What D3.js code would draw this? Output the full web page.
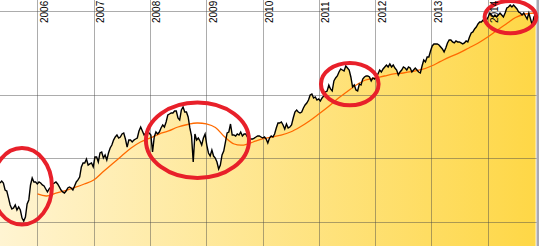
<!DOCTYPE html>
<html><head><meta charset="utf-8">
<script src="https://cdn.jsdelivr.net/npm/d3@7"></script>
<style>html,body{margin:0;padding:0;background:#fff;overflow:hidden}</style>
</head><body>
<svg id="c" width="539" height="246"></svg>
<script>
// ---- data ----
const seriesStart = "2005-05-03";   // first sample
const stepDays = 11;                // sampling interval of the price series
const prices = [
 7.65,7.82,7.65,7.09,7.01,6.50,6.02,5.76,5.83,6.02,
 5.70,5.89,5.70,5.22,5.05,5.28,6.09,6.36,7.49,8.08,
 7.74,7.74,7.57,7.74,7.65,7.49,7.41,7.17,6.94,7.17,
 7.33,7.57,7.65,7.74,7.57,7.33,7.09,6.94,6.86,7.01,
 7.25,7.33,7.25,7.09,7.41,7.74,7.91,8.17,9.12,9.52,
 9.52,9.94,9.31,9.42,9.52,9.12,10.16,10.16,9.62,10.62,
 10.73,10.05,10.39,9.83,10.62,11.21,11.58,12.23,12.64,12.92,
 12.50,12.64,13.06,13.21,12.37,11.33,12.23,12.23,11.97,12.23,
 12.37,12.50,13.50,14.10,13.50,12.92,13.21,13.35,13.21,12.92,
 10.73,12.64,13.35,13.06,13.35,13.95,14.41,14.10,14.89,16.07,
 16.25,16.43,16.43,16.79,16.79,15.56,15.22,16.97,17.54,16.61,
 16.61,15.73,13.95,12.78,9.62,13.06,12.23,12.50,12.10,11.58,
 12.50,13.06,11.58,10.62,10.27,10.97,10.27,10.05,9.62,8.92,
 9.31,10.39,10.85,11.97,13.21,13.35,14.57,12.92,12.92,12.78,
 13.06,12.92,13.35,12.78,13.06,13.06,12.64,12.37,12.37,12.37,
 12.50,12.64,12.78,12.78,12.64,12.50,12.64,12.37,11.84,12.50,
 12.78,12.64,13.06,13.95,14.73,14.73,14.89,14.41,13.79,14.57,
 13.95,14.10,14.41,15.56,16.61,16.97,16.61,16.43,16.61,17.35,
 17.93,18.32,18.93,19.99,20.21,19.35,19.56,18.93,19.14,18.73,
 19.35,19.78,20.66,20.89,22.30,21.35,20.89,23.30,24.07,24.60,
 25.70,26.56,26.27,25.99,27.44,26.85,26.27,24.34,21.82,22.30,
 21.12,20.89,22.55,22.30,23.81,24.34,24.60,24.60,24.34,23.30,
 24.07,23.81,24.34,25.15,26.27,25.70,26.56,27.15,27.74,27.15,
 28.05,27.15,27.74,26.85,26.27,24.87,25.70,26.27,27.15,26.85,
 26.27,27.15,26.85,25.70,26.27,26.85,26.27,25.70,25.42,27.44,
 29.30,28.67,30.28,30.28,32.33,34.14,34.89,34.89,34.89,34.51,
 33.77,33.04,31.98,33.40,35.28,36.45,36.45,35.66,35.28,36.05,
 35.66,35.66,35.28,34.89,35.28,36.05,35.66,37.67,39.35,39.78,
 41.09,42.00,43.38,44.34,44.34,45.32,44.34,45.32,46.83,48.92,
 47.86,46.83,47.86,46.83,47.86,48.92,47.86,46.83,48.92,51.66,
 52.23,53.38,52.23,53.38,52.23,51.10,49.46,48.92,47.86,48.92,
 47.34,45.82,48.92,45.82,42.91,46.83,48.39
];
const maDates = [
 "2006-01-01","2006-03-01","2006-05-01","2006-07-01","2006-09-01","2006-11-01",
 "2007-01-01","2007-03-01","2007-05-01","2007-07-01","2007-09-01","2007-11-01",
 "2008-01-01","2008-03-01","2008-05-01","2008-07-01","2008-09-01","2008-11-01",
 "2009-01-01","2009-03-01","2009-05-01","2009-07-01","2009-09-01","2009-11-01",
 "2010-01-01","2010-03-01","2010-05-01","2010-07-01","2010-09-01","2010-11-01",
 "2011-01-01","2011-03-01","2011-05-01","2011-07-01","2011-09-01","2011-11-01",
 "2012-01-01","2012-03-01","2012-05-01","2012-07-01","2012-09-01","2012-11-01",
 "2013-01-01","2013-03-01","2013-05-01","2013-07-01","2013-09-01","2013-11-01",
 "2014-01-01","2014-03-01","2014-05-01","2014-07-01","2014-09-01","2014-11-01"
];
const maValues = [
 6.79,6.64,6.86,7.05,7.29,7.57,
 7.91,8.63,9.42,10.27,11.21,11.97,
 12.50,13.06,13.50,14.10,14.49,14.73,
 14.57,14.02,12.64,11.71,11.58,11.97,
 12.37,12.64,12.92,13.35,14.10,15.06,
 16.25,17.54,19.14,20.66,22.30,23.55,
 24.07,24.60,25.15,25.42,25.85,26.41,
 27.44,28.83,30.28,31.63,33.40,35.28,
 37.67,40.42,43.38,46.57,48.39,48.92
];
const yearTicks = ["2006","2007","2008","2009","2010","2011","2012","2013","2014"];
const priceGrid = [5, 10, 20, 50];
const hlFrom = ["2005-03-12","2007-12-06","2011-01-15","2013-12-12"];
const hlTo   = ["2006-04-05","2009-10-05","2012-01-24","2014-11-12"];
const hlLow  = [4.86, 8.08, 17.87, 39.2];
const hlHigh = [11.21, 18.42, 28.36, 55.8];
const domainStart = "2005-05-03", domainEnd = "2014-11-17";

// ---- drawing ----
const W = 539, H = 246, PW = 537;
const parse = d3.timeParse("%Y-%m-%d");
const series = prices.map((v, i) => ({date: d3.timeDay.offset(parse(seriesStart), i * stepDays), value: v}));
const ma = maDates.map((d, i) => ({date: parse(d), value: maValues[i]}));

const x = d3.scaleTime().domain([parse(domainStart), parse(domainEnd)]).range([0, PW]);
const y = d3.scaleLog().domain([5, 50]).range([222, 11]);

const svg = d3.select("#c");
const defs = svg.append("defs");
const grad = defs.append("linearGradient").attr("id", "gold")
  .attr("gradientUnits", "userSpaceOnUse").attr("x1", 0).attr("x2", PW).attr("y1", 0).attr("y2", 0);
grad.append("stop").attr("offset", 0).attr("stop-color", "#fff4d2");
grad.append("stop").attr("offset", 1).attr("stop-color", "#fed746");

svg.append("path").datum(series)
  .attr("fill", "url(#gold)")
  .attr("d", d3.area().x(d => x(d.date)).y0(H).y1(d => y(d.value)));

// grid
const gridCol = "rgba(70,70,70,0.45)";
const xTicks = yearTicks.map(t => parse(t + "-01-01"));
const vx = d3.axisTop(x).tickValues(xTicks).tickSize(-H).tickFormat("");
const gx = svg.append("g").call(vx);
gx.select(".domain").remove();
gx.selectAll("line").attr("stroke", gridCol).attr("shape-rendering", "crispEdges");

const hy = d3.axisLeft(y).tickValues(priceGrid).tickSize(-PW).tickFormat("");
const gy = svg.append("g").call(hy);
gy.select(".domain").remove();
gy.selectAll("line").attr("stroke", gridCol).attr("shape-rendering", "crispEdges");

// right border
svg.append("rect").attr("x", PW - 0.5).attr("y", 0).attr("width", W - PW + 0.5).attr("height", H)
  .attr("fill", "#a9a9b3");

// moving average
svg.append("path").datum(ma)
  .attr("fill", "none").attr("stroke", "#ff6a00").attr("stroke-width", 1.3)
  .attr("d", d3.line().curve(d3.curveCatmullRom).x(d => x(d.date)).y(d => y(d.value)));

// price
svg.append("path").datum(series)
  .attr("fill", "none").attr("stroke", "#000").attr("stroke-width", 1.4)
  .attr("stroke-linejoin", "miter")
  .attr("d", d3.line().x(d => x(d.date)).y(d => y(d.value)));

// highlight ellipses
svg.append("g").selectAll("ellipse").data(hlFrom).join("ellipse")
  .attr("cx", (d, i) => (x(parse(d)) + x(parse(hlTo[i]))) / 2)
  .attr("rx", (d, i) => (x(parse(hlTo[i])) - x(parse(d))) / 2)
  .attr("cy", (d, i) => (y(hlLow[i]) + y(hlHigh[i])) / 2)
  .attr("ry", (d, i) => (y(hlLow[i]) - y(hlHigh[i])) / 2)
  .attr("fill", "none").attr("stroke", "#e8202a").attr("stroke-width", 4);

// year labels
svg.append("g").selectAll("text").data(yearTicks).join("text")
  .attr("transform", d => `translate(${x(parse(d + "-01-01")) + 10.5},23) rotate(-90)`)
  .attr("font-family", "Liberation Sans, Arial, sans-serif").attr("font-size", 10)
  .attr("fill", "#000").text(d => d);
</script>
</body></html>
